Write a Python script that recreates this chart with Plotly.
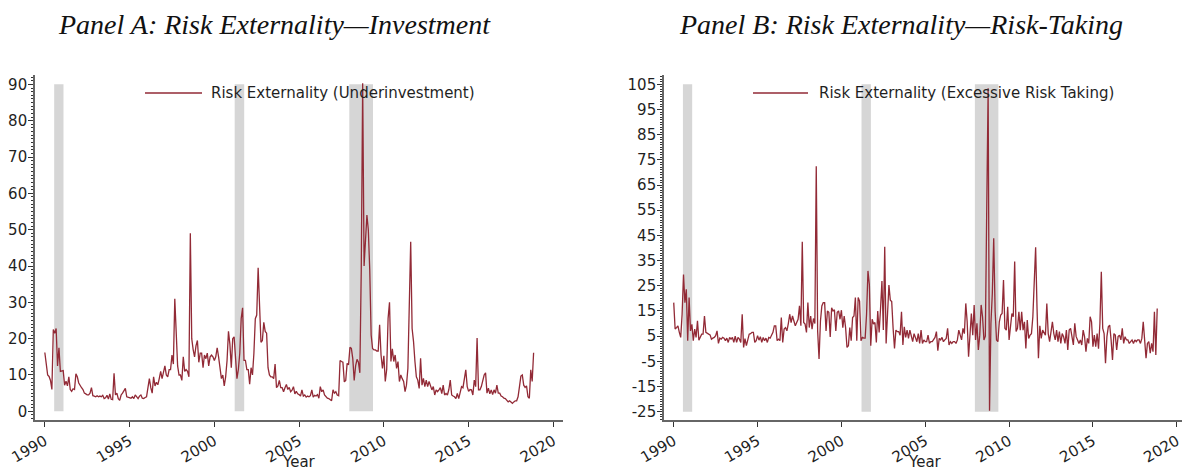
import numpy as np
import plotly.graph_objects as go

# ---------------- data (monthly, Jan 1990 - Nov 2018) ----------------
start_year = 1990

underinvestment = [
    16.2, 12.5, 10.0, 9.6, 8.5, 6.0, 22.5, 21.5, 22.8, 12.5, 17.5, 11.0,   # 1990
    11.0, 11.2, 7.2, 8.3, 7.0, 9.5, 6.0, 5.5, 6.2, 6.0, 10.3, 9.5,         # 1991
    7.8, 7.0, 6.5, 6.0, 5.0, 4.8, 4.5, 4.5, 5.0, 6.5, 4.3, 4.2,            # 1992
    4.0, 4.3, 4.0, 4.2, 4.0, 4.4, 3.5, 3.7, 4.4, 3.4, 4.8, 3.3,            # 1993
    3.2, 10.5, 4.5, 5.0, 3.5, 3.0, 4.5, 5.0, 5.5, 6.3, 4.0, 3.8,           # 1994
    3.8, 3.6, 4.0, 3.5, 4.5, 3.8, 3.5, 4.2, 4.5, 3.6, 3.5, 3.8,            # 1995
    4.0, 6.5, 9.0, 6.5, 5.0, 9.5, 7.0, 8.0, 7.3, 9.0, 11.0, 9.0,           # 1996
    11.0, 12.5, 10.0, 9.5, 11.5, 11.5, 15.5, 13.0, 31.0, 20.0, 12.5, 10.0, # 1997
    10.0, 8.5, 15.0, 11.0, 11.5, 11.0, 9.5, 49.0, 20.0, 17.0, 15.0, 18.0,  # 1998
    19.5, 13.5, 16.0, 16.0, 12.0, 15.5, 14.5, 16.0, 12.5, 15.0, 15.5, 15.0,# 1999
    14.0, 15.0, 17.5, 15.0, 11.0, 9.0, 10.0, 7.0, 9.5, 14.0, 22.0, 18.5,   # 2000
    12.0, 20.0, 20.5, 15.0, 9.0, 11.5, 16.0, 25.5, 28.5, 14.0, 14.0, 11.5, # 2001
    11.5, 7.5, 12.0, 10.0, 16.0, 25.5, 26.5, 39.5, 26.0, 19.0, 19.5, 24.5, # 2002
    22.0, 21.5, 12.0, 10.0, 9.5, 9.5, 9.0, 13.0, 6.5, 7.0, 8.5, 6.5,       # 2003
    6.5, 5.4, 6.5, 7.4, 6.0, 6.6, 5.4, 5.8, 6.8, 4.8, 5.5, 4.8,            # 2004
    4.6, 4.2, 5.9, 4.2, 4.5, 3.9, 4.2, 4.0, 4.3, 5.9, 3.9, 4.4,            # 2005
    4.2, 4.6, 3.6, 6.8, 5.4, 5.9, 4.5, 4.0, 3.6, 3.5, 3.3, 2.9,            # 2006
    5.9, 5.0, 5.4, 4.5, 4.3, 14.0, 13.7, 13.5, 8.1, 8.5, 13.2, 12.8,       # 2007
    17.6, 17.3, 14.5, 8.5, 12.5, 14.3, 13.5, 10.6, 39.0, 90.3, 40.0, 48.5, # 2008
    54.0, 50.0, 39.0, 21.0, 17.3, 16.9, 16.9, 16.6, 16.6, 23.8, 15.5, 11.8,# 2009
    15.3, 8.2, 11.5, 25.6, 30.0, 13.7, 17.2, 13.7, 15.5, 11.8, 13.7, 8.2,  # 2010
    10.0, 9.0, 8.2, 5.4, 7.2, 11.8, 28.3, 46.7, 22.8, 19.2, 13.7, 9.5,     # 2011
    8.6, 6.3, 14.6, 7.2, 9.1, 6.8, 8.6, 6.8, 8.2, 6.8, 5.9, 6.8,           # 2012
    4.5, 5.9, 5.4, 5.9, 6.5, 4.9, 7.2, 4.5, 4.9, 4.5, 6.0, 8.6,            # 2013
    4.5, 4.2, 4.0, 3.5, 4.9, 3.5, 5.5, 6.8, 6.5, 9.1, 11.4, 6.8,           # 2014
    5.5, 6.0, 5.9, 4.5, 8.6, 6.8, 20.2, 5.9, 5.9, 6.8, 8.2, 10.0,          # 2015
    10.6, 5.0, 6.4, 4.8, 5.9, 4.6, 5.9, 5.0, 7.2, 5.0, 5.0, 4.2,           # 2016
    4.0, 3.6, 3.5, 3.1, 2.6, 2.9, 2.6, 2.2, 2.6, 2.9, 2.9, 4.0,            # 2017
    6.8, 9.7, 10.0, 7.2, 6.6, 7.0, 4.0, 3.6, 11.4, 8.2, 16.1,              # 2018
]

excessive_risk = [
    18.3, 7.8, 8.4, 9.1, 6.5, 4.5, 13.7, 29.5, 18.3, 23.6, 3.2, 20.3,      # 1990
    7.1, 9.7, 3.2, 7.8, 4.5, 11.1, 3.4, 4.5, 5.8, 5.8, 13.0, 6.5,          # 1991
    6.0, 5.8, 5.5, 3.8, 4.2, 4.5, 5.2, 7.1, 2.1, 4.2, 3.8, 4.5,            # 1992
    4.2, 3.2, 4.2, 2.5, 4.5, 3.8, 4.5, 2.5, 5.0, 2.5, 4.5, 3.8,            # 1993
    2.5, 13.7, 0.5, 4.0, 1.2, 3.8, 5.8, 6.0, 6.5, 6.5, 2.5, 3.2,           # 1994
    5.2, 3.4, 4.8, 2.5, 4.5, 3.2, 4.2, 2.5, 4.5, 4.2, 5.8, 6.5,            # 1995
    9.1, 9.1, 3.2, 3.8, 3.2, 12.4, 2.5, 7.8, 8.4, 7.1, 10.0, 13.7,         # 1996
    10.4, 13.0, 11.0, 9.1, 10.4, 11.7, 17.0, 9.1, 42.5, 10.4, 9.8, 6.5,    # 1997
    18.3, 8.4, 13.0, 7.8, 12.0, 10.0, 72.5, 7.0, -4.1, 11.0, 17.0, 18.3,   # 1998
    18.3, 7.1, 15.0, 14.5, 4.7, 16.3, 15.0, 15.5, 7.1, 14.5, 15.0, 11.7,   # 1999
    15.3, 8.4, 13.0, 8.4, 0.5, 1.2, 8.4, 3.2, 12.4, 13.0, 20.3, 3.2,       # 2000
    20.3, 18.9, 3.2, 4.5, 4.2, 4.2, 13.7, 30.9, 25.5, 1.2, 11.7, 9.8,      # 2001
    10.4, 2.5, 15.0, 6.5, 16.0, 26.9, 7.4, 40.5, 2.1, 16.0, 25.3, 19.3,    # 2002
    18.7, 8.1, 0.1, 7.4, 6.8, 6.8, 5.4, 14.7, 1.5, 8.7, 4.5, 7.4,          # 2003
    4.1, 7.4, 5.4, 2.8, 6.0, 4.1, 2.8, 6.0, 2.1, 7.4, 2.1, 3.5,            # 2004
    2.8, 2.8, 5.4, 2.1, 2.8, 2.8, 3.5, 4.5, 6.8, -0.8, 4.1, 3.5,           # 2005
    4.5, 2.8, 3.5, 4.1, 8.1, 1.5, 2.8, 2.1, 2.8, 2.8, 2.1, 3.5,            # 2006
    7.4, 5.4, 3.5, 8.1, 6.0, 18.0, 10.7, -3.2, 7.4, 14.0, 5.4, 17.4,       # 2007
    3.5, 10.1, -0.5, 5.4, 17.4, 12.7, 3.5, 5.0, 56.0, 103.4, -24.6, 10.0,  # 2008
    22.0, 43.9, 15.0, 3.5, 2.8, 10.7, 13.4, 14.0, 27.3, 8.1, 7.4, 16.7,    # 2009
    3.5, 9.0, 14.0, 12.7, 34.6, 6.8, 8.1, 14.7, 7.4, 14.7, 7.4, 10.7,      # 2010
    0.1, 11.4, 4.1, 5.4, 6.0, 12.7, 26.0, 40.3, 16.0, -3.8, 9.1, 4.1,      # 2011
    7.4, 6.0, 5.4, 18.0, 6.0, 2.8, 7.4, 10.7, 6.0, 3.5, 7.4, 2.8,          # 2012
    6.8, 2.1, 6.0, 4.8, 2.1, 7.4, -0.5, 7.4, 8.1, 4.8, 1.5, 10.1,          # 2013
    4.8, 3.5, 2.1, 3.5, 1.5, 7.4, 4.8, -1.2, 4.1, 2.1, 12.7, 10.7,         # 2014
    0.8, 5.4, 0.8, 6.0, 0.0, 10.1, 30.6, 8.1, 6.0, -5.8, 4.8, 8.7,         # 2015
    9.4, 3.5, -4.5, 6.0, 5.4, -0.5, 4.8, 5.4, 3.5, 8.1, 2.1, 4.8,          # 2016
    3.5, 3.5, 2.1, 2.8, 3.5, 2.1, 3.5, 2.8, 3.5, 3.5, 2.1, 4.1,            # 2017
    10.7, 3.5, -3.8, 2.1, 2.8, -1.8, 2.1, -1.2, 14.7, -2.5, 16.0,          # 2018
]

series_names = ["Risk Externality (Underinvestment)",
                "Risk Externality (Excessive Risk Taking)"]
panel_titles = ["Panel A: Risk Externality\u2014Investment",
                "Panel B: Risk Externality\u2014Risk-Taking"]

recession_start = [1990.55, 2001.20, 2007.96]
recession_end = [1991.10, 2001.76, 2009.36]

x_tickvals = [1990, 1995, 2000, 2005, 2010, 2015, 2020]
x_ticktext = ["1990", "1995", "2000", "2005", "2010", "2015", "2020"]
ya_tickvals = [0, 10, 20, 30, 40, 50, 60, 70, 80, 90]
ya_ticktext = ["0", "10", "20", "30", "40", "50", "60", "70", "80", "90"]
yb_tickvals = [-25, -15, -5, 5, 15, 25, 35, 45, 55, 65, 75, 85, 95, 105]
yb_ticktext = ["-25", "-15", "-5", "5", "15", "25", "35", "45", "55",
               "65", "75", "85", "95", "105"]

# ---------------- figure ----------------
# The page body has an 8px margin, so the figure is placed at (8, 8) on screen.
OFF = 8
W, H = 1190 - OFF, 475 - OFF
LINE = "#922a36"
SHADE = "rgba(185,185,185,0.58)"
FONT = "DejaVu Sans, Verdana, sans-serif"
TXT = "#1f1f1f"
TICK_SIZE = 15


def xp(px):
    """screen x pixel -> paper fraction"""
    return (px - OFF) / W


def yp(py):
    """screen y pixel (from top) -> paper fraction"""
    return 1 - (py - OFF) / H


def years(vals):
    return start_year + np.arange(len(vals)) / 12.0


fig = go.Figure()
fig.add_trace(go.Scatter(x=years(underinvestment), y=underinvestment, mode="lines",
                         name=series_names[0], line=dict(color=LINE, width=1.3),
                         xaxis="x", yaxis="y", showlegend=False))
fig.add_trace(go.Scatter(x=years(excessive_risk), y=excessive_risk, mode="lines",
                         name=series_names[1], line=dict(color=LINE, width=1.3),
                         xaxis="x2", yaxis="y2", showlegend=False))

shapes = []
for xr, yr, tv in (("x", "y", ya_tickvals), ("x2", "y2", yb_tickvals)):
    for s, e in zip(recession_start, recession_end):
        shapes.append(dict(type="rect", xref=xr, yref=yr, x0=s, x1=e,
                           y0=min(tv), y1=max(tv), fillcolor=SHADE,
                           line=dict(width=0), layer="below"))

# legend-like keys (line sample + label)
legend_pos = [(145, 202, 209), (753, 808, 817)]
legend_y = yp(93)
annotations = []
for (l0, l1, tx), name in zip(legend_pos, series_names):
    shapes.append(dict(type="line", xref="paper", yref="paper",
                       x0=xp(l0), x1=xp(l1), y0=legend_y, y1=legend_y,
                       line=dict(color=LINE, width=1.3)))
    annotations.append(dict(xref="paper", yref="paper", x=xp(tx), y=legend_y,
                            xanchor="left", yanchor="middle", showarrow=False,
                            text=name, font=dict(family=FONT, size=15, color=TXT)))

for cx, title in zip((274, 901), panel_titles):
    annotations.append(dict(xref="paper", yref="paper", x=xp(cx), y=1.0,
                            xanchor="center", yanchor="top", showarrow=False,
                            borderpad=0, text=title,
                            font=dict(family="Liberation Serif, Times New Roman, serif",
                                      size=28, color="#111", style="italic")))

for xd in ("x domain", "x2 domain"):
    annotations.append(dict(xref=xd, yref="paper", x=0.5, y=yp(462),
                            xanchor="center", yanchor="middle", showarrow=False,
                            text="Year", font=dict(family=FONT, size=15, color=TXT)))

xaxis_common = dict(range=[1989.42, 2020.55], tickmode="array", tickvals=x_tickvals,
                    ticktext=x_ticktext, tickangle=-30, ticks="outside", ticklen=5,
                    tickwidth=1, tickcolor="#333", showline=True, linecolor="#666",
                    linewidth=1.6, showgrid=False, zeroline=False, automargin=False,
                    tickfont=dict(family=FONT, size=TICK_SIZE, color=TXT))
yaxis_common = dict(ticks="outside", ticklen=5, tickwidth=1, tickcolor="#333",
                    showline=True, linecolor="#666", linewidth=1.6, showgrid=False,
                    zeroline=False, tickmode="array", automargin=False,
                    ticklabelstandoff=-2,
                    tickfont=dict(family=FONT, size=TICK_SIZE, color=TXT),
                    minor=dict(ticks="outside", ticklen=2.5, tickwidth=1,
                               tickcolor="#333", dtick=1, showgrid=False))

dom_y = [yp(420), yp(75)]
fig.update_layout(
    width=W, height=H, margin=dict(l=0, r=0, t=0, b=0, autoexpand=False),
    paper_bgcolor="white", plot_bgcolor="white", showlegend=False,
    xaxis=dict(domain=[xp(35), xp(562.7)], anchor="y", **xaxis_common),
    yaxis=dict(domain=dom_y, anchor="x", range=[-2.39, 92.58],
               tickvals=ya_tickvals, ticktext=ya_ticktext, **yaxis_common),
    xaxis2=dict(domain=[xp(664), xp(1186)], anchor="y2", **xaxis_common),
    yaxis2=dict(domain=dom_y, anchor="x2", range=[-28.3, 108.7],
                tickvals=yb_tickvals, ticktext=yb_ticktext, **yaxis_common),
    shapes=shapes, annotations=annotations,
)
fig.update_layout(yaxis_minor_tick0=0, yaxis2_minor_tick0=-25)

fig.write_html("out.html")
